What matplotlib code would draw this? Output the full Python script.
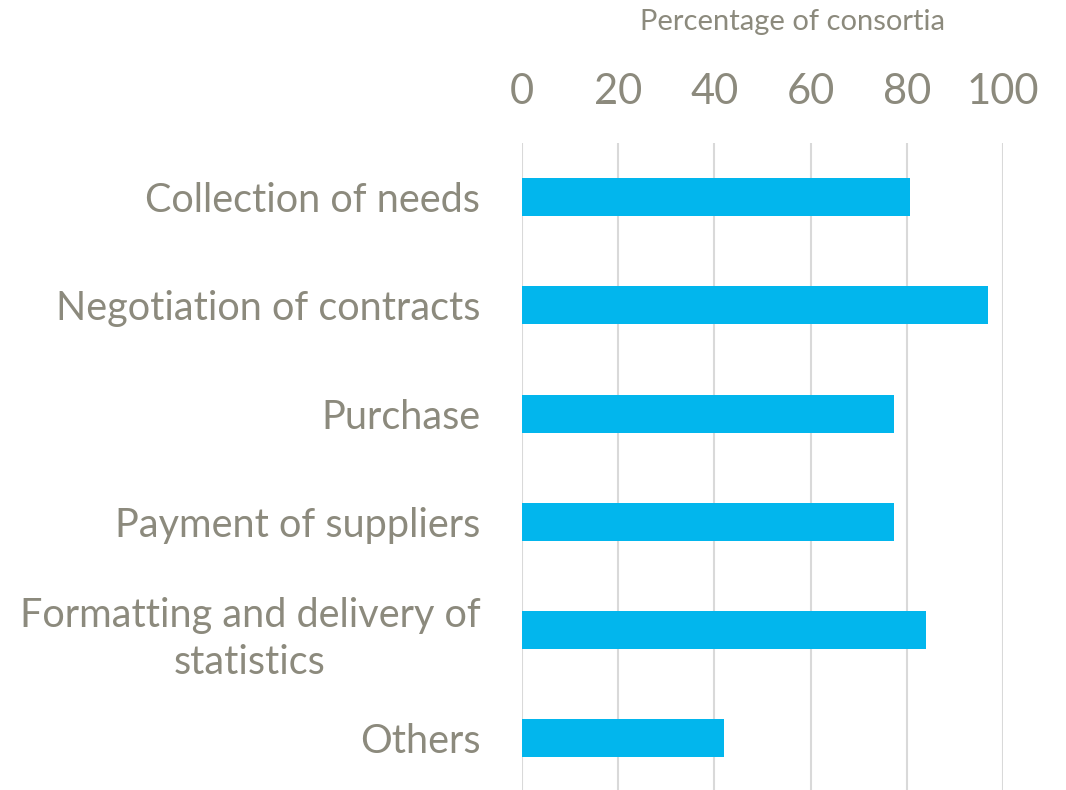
import matplotlib.pyplot as plt
import numpy as np

plt.rcParams['font.family'] = ['Lato', 'DejaVu Sans']

categories = ["Collection of needs", "Negotiation of contracts", "Purchase",
              "Payment of suppliers", "Formatting and delivery of\nstatistics", "Others"]
percent = [80.6, 96.8, 77.4, 77.4, 83.9, 41.9]
xticks = [0, 20, 40, 60, 80, 100]

gray = "#8c8a7d"
blue = "#02b6ed"

fig = plt.figure(figsize=(10.66, 7.90), dpi=100)
ax = fig.add_axes([0.4897, -0.003, 0.4512, 0.822])

y = np.arange(len(categories))
ax.barh(y, percent, height=0.35, color=blue, zorder=3)

ax.set_xlim(0, 100)
ax.set_ylim(len(categories) - 0.5, -0.5)
ax.set_xticks(xticks)
ax.set_yticks(y, labels=categories)
for lab in ax.get_yticklabels():
    lab.set_multialignment('center')
    lab.set_linespacing(1.35)

ax.xaxis.tick_top()
ax.tick_params(axis='x', length=0, pad=23, labelsize=30, labelcolor=gray)
ax.tick_params(axis='y', length=0, pad=30, labelsize=28.5, labelcolor=gray)
ax.grid(axis='x', color="#d9d9d9", linewidth=1.5, zorder=0)
for s in ax.spines.values():
    s.set_visible(False)

fig.text(792 / 1066, 1 - 22 / 790, "Percentage of consortia", ha='center', va='center',
         fontsize=21, color=gray)

fig.savefig("out.png")
